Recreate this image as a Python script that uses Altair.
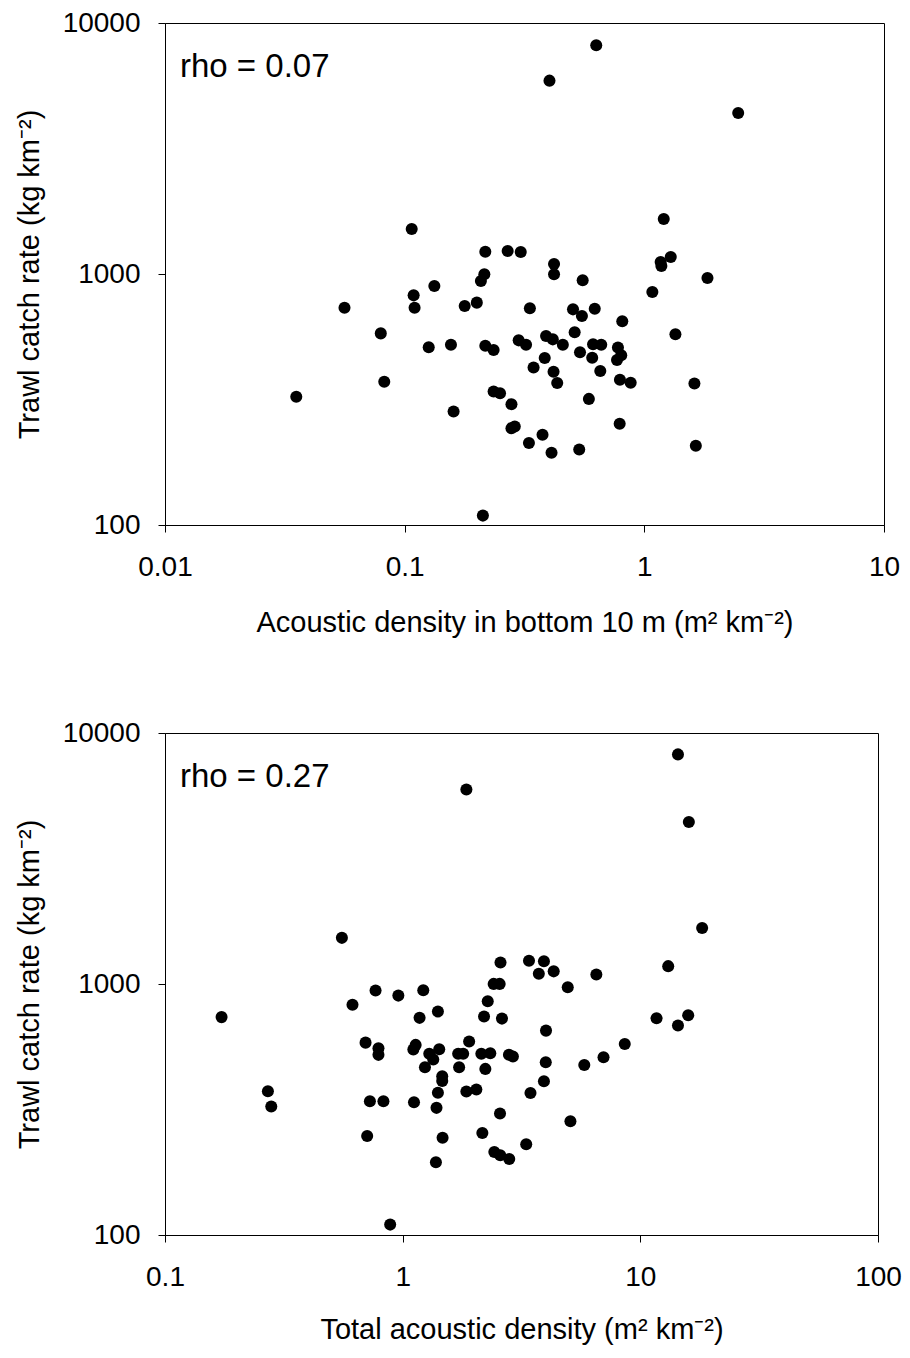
import altair as alt
import pandas as pd

# ---- data ----
top_density = [0.0353, 0.0561, 0.0795, 0.0822, 0.107, 0.109, 0.110, 0.126, 0.133, 0.156,
               0.160, 0.178, 0.200, 0.208, 0.215, 0.217, 0.217, 0.212, 0.235, 0.235,
               0.250, 0.269, 0.279, 0.279, 0.288, 0.299, 0.305, 0.321, 0.330, 0.333,
               0.345, 0.376, 0.384, 0.389, 0.402, 0.410, 0.415, 0.420, 0.420, 0.418,
               0.433, 0.457, 0.504, 0.512, 0.535, 0.539, 0.549, 0.553, 0.587, 0.606,
               0.611, 0.621, 0.630, 0.655, 0.661, 0.769, 0.776, 0.801, 0.791, 0.789,
               0.809, 0.877, 1.080, 1.170, 1.178, 1.205, 1.289, 1.348, 1.618, 1.640,
               1.834, 2.464]
top_catch = [324, 734, 580, 372, 1512, 822, 734, 511, 896, 523,
             283, 746, 769, 938, 997, 1227, 518, 109, 498, 340,
             335, 1235, 303, 243, 247, 544, 1224, 523, 212, 730,
             424, 229, 463, 566, 5893, 194, 549, 1096, 997, 408,
             368, 523, 723, 586, 200, 488, 680, 944, 318, 464,
             525, 727, 8150, 411, 523, 454, 509, 475, 379, 253,
             648, 369, 848, 1116, 1076, 1656, 1169, 575, 366, 207,
             964, 4378]

bot_density = [0.173, 0.271, 0.280, 0.555, 0.615, 0.698, 0.709, 0.728, 0.769, 0.791,
               0.791, 0.830, 0.886, 0.959, 1.109, 1.134, 1.116, 1.178, 1.221, 1.241,
               1.294, 1.345, 1.380, 1.388, 1.407, 1.407, 1.425, 1.467, 1.467, 1.472,
               1.712, 1.797, 1.728, 1.854, 1.854, 1.904, 2.042, 2.143, 2.164, 2.200,
               2.228, 2.280, 2.337, 2.415, 2.559, 2.430, 2.568, 2.574, 2.580, 2.617,
               2.800, 2.910, 2.808, 3.31, 3.40, 3.45, 3.74, 3.93, 3.93, 4.01,
               4.00, 4.32, 4.95, 5.08, 5.81, 6.53, 7.00, 8.60, 11.7, 13.1,
               14.4, 14.4, 15.9, 16.0, 18.2]
bot_catch = [738, 374, 325, 1527, 826, 584, 248, 341, 942, 555,
             522, 341, 110, 899, 548, 572, 338, 733, 945, 466,
             527, 500, 195, 321, 777, 369, 550, 429, 411, 244,
             527, 527, 466, 5959, 373, 590, 380, 527, 255, 742,
             459, 854, 530, 1001, 1001, 214, 305, 208, 1219, 728,
             523, 514, 201, 230, 1237, 368, 1098, 1231, 410, 652,
             488, 1123, 971, 284, 476, 1091, 511, 577, 731, 1178,
             683, 8218, 751, 4417, 1670]

top_xticks = [0.01, 0.1, 1, 10]
bot_xticks = [0.1, 1, 10, 100]
y_ticks = [100, 1000, 10000]
rho_labels = ["rho = 0.07", "rho = 0.27"]
top_xtitle = "Acoustic density in bottom 10 m (m² km⁻²)"
bot_xtitle = "Total acoustic density (m² km⁻²)"
y_title = "Trawl catch rate (kg km⁻²)"

FONT = "Liberation Sans"


def panel(xs, ys, xticks, xtitle, rho, width, title_pad):
    df = pd.DataFrame({"x": xs, "y": ys})
    pts = alt.Chart(df).mark_circle(size=145, color="black", opacity=1).encode(
        x=alt.X("x:Q",
                scale=alt.Scale(type="log", domain=[xticks[0], xticks[-1]], nice=False),
                axis=alt.Axis(values=xticks, format="~g", title=xtitle, labelFlush=False,
                              titlePadding=title_pad)),
        y=alt.Y("y:Q",
                scale=alt.Scale(type="log", domain=[y_ticks[0], y_ticks[-1]], nice=False),
                axis=alt.Axis(values=y_ticks, format="d", title=y_title)),
    )
    txt = alt.Chart(pd.DataFrame({"t": [rho]})).mark_text(
        align="left", baseline="alphabetic", fontSize=33, font=FONT, color="black"
    ).encode(x=alt.value(15), y=alt.value(54), text="t:N")
    return (pts + txt).properties(width=width, height=502)


top = panel(top_density, top_catch, top_xticks, top_xtitle, rho_labels[0], 719, 27)
bot = panel(bot_density, bot_catch, bot_xticks, bot_xtitle, rho_labels[1], 713, 24)

chart = alt.vconcat(top, bot, spacing=80).properties(
    padding={"left": 6, "top": 0, "right": 0, "bottom": 0}
).configure_view(
    stroke="black", strokeWidth=1
).configure_axis(
    grid=False,
    domainColor="black",
    tickColor="black",
    tickSize=7,
    labelFont=FONT,
    titleFont=FONT,
    labelFontSize=28,
    titleFontSize=29,
    labelColor="black",
    titleColor="black",
    titleFontWeight="normal",
).configure_axisY(
    labelPadding=18,
    titlePadding=18,
).configure_axisX(
    labelPadding=21,
)

chart.save("out.html", embed_options={"renderer": "svg", "actions": False})
